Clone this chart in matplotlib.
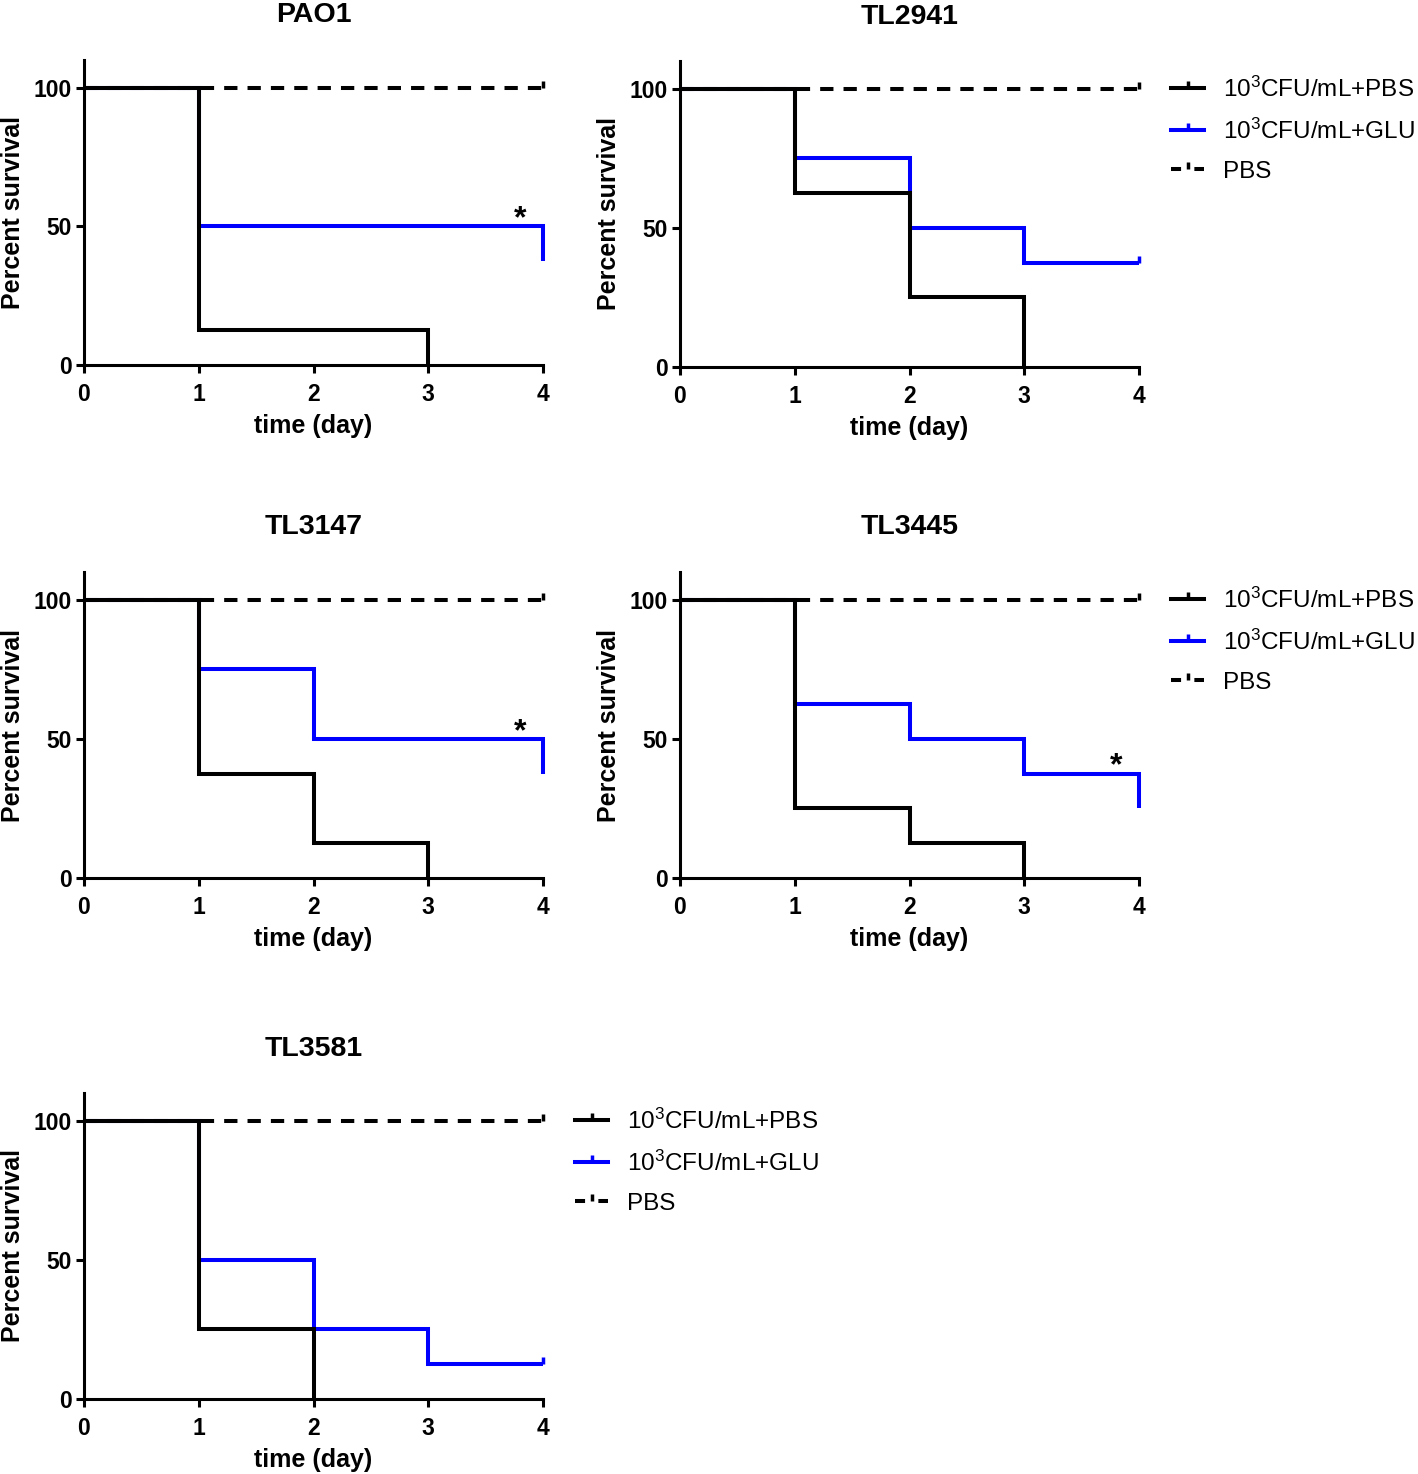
import matplotlib
matplotlib.use("Agg")
import matplotlib.pyplot as plt
from matplotlib.lines import Line2D

plt.rcParams['font.family'] = ['Liberation Sans', 'DejaVu Sans']
plt.rcParams['mathtext.fontset'] = 'custom'
plt.rcParams['mathtext.rm'] = 'Liberation Sans'
plt.rcParams['mathtext.it'] = 'Liberation Sans:italic'
plt.rcParams['mathtext.bf'] = 'Liberation Sans:bold'

# ---- data (Kaplan-Meier steps) ----
strains = ['PAO1', 'TL2941', 'TL3147', 'TL3445', 'TL3581']

# 10^3 CFU/mL + PBS (black)
pbs_days = {
    'PAO1': [0, 1, 3],
    'TL2941': [0, 1, 2, 3],
    'TL3147': [0, 1, 2, 3],
    'TL3445': [0, 1, 2, 3],
    'TL3581': [0, 1, 2],
}
pbs_surv = {
    'PAO1': [100, 12.5, 0],
    'TL2941': [100, 62.5, 25, 0],
    'TL3147': [100, 37.5, 12.5, 0],
    'TL3445': [100, 25, 12.5, 0],
    'TL3581': [100, 25, 0],
}

# 10^3 CFU/mL + GLU (blue)
glu_days = {
    'PAO1': [0, 1, 4],
    'TL2941': [0, 1, 2, 3, 4],
    'TL3147': [0, 1, 2, 4],
    'TL3445': [0, 1, 2, 3, 4],
    'TL3581': [0, 1, 2, 3, 4],
}
glu_surv = {
    'PAO1': [100, 50, 37.5],
    'TL2941': [100, 75, 50, 37.5, 37.5],
    'TL3147': [100, 75, 50, 37.5],
    'TL3445': [100, 62.5, 50, 37.5, 25],
    'TL3581': [100, 50, 25, 12.5, 12.5],
}
glu_censored = ['TL2941', 'TL3581']

# PBS only control (dashed)
ctrl_days = [0, 4]
ctrl_surv = [100, 100]

# significance stars: (x, y)
stars = {'PAO1': (3.8, 52.5), 'TL3147': (3.8, 52.5), 'TL3445': (3.8, 40)}

legend_labels = [r'10$^{3}$CFU/mL+PBS', r'10$^{3}$CFU/mL+GLU', 'PBS']
legend_panels = ['TL2941', 'TL3445', 'TL3581']

# ---- layout ----
W, H = 1418, 1474
fig = plt.figure(figsize=(W / 100, H / 100), dpi=100)

def px_axes(x0, x1, y0_px, top_px):
    return fig.add_axes([x0 / W, 1 - y0_px / H, (x1 - x0) / W, (y0_px - top_px) / H])

# pixel positions: left, right, y of 0, y of top (110)
positions = {
    'PAO1': (84, 543, 365, 60),
    'TL2941': (680, 1139, 367, 61),
    'TL3147': (84, 543, 878, 572),
    'TL3445': (680, 1139, 878, 572),
    'TL3581': (84, 543, 1399, 1093),
}

LW = 2.9
BLUE = '#0000ff'

for name in strains:
    ax = px_axes(*positions[name])
    style = dict(lw=LW, solid_joinstyle='miter', solid_capstyle='butt', clip_on=False)
    ax.plot(ctrl_days, ctrl_surv, color='black', lw=LW, linestyle=(0, (3.3, 2.5)),
            dash_capstyle='butt', clip_on=False)
    ax.plot([ctrl_days[-1]], [ctrl_surv[-1]], color='black', marker=2, ms=5, mew=2.5,
            linestyle='none', clip_on=False)
    ax.step(glu_days[name], glu_surv[name], where='post', color=BLUE, **style)
    if name in glu_censored:
        ax.plot([glu_days[name][-1]], [glu_surv[name][-1]], color=BLUE, marker=2, ms=5,
                mew=2.5, linestyle='none', clip_on=False)
    ax.step(pbs_days[name], pbs_surv[name], where='post', color='black', **style)

    if name in stars:
        sx, sy = stars[name]
        ax.text(sx, sy, '*', ha='center', va='center', fontsize=23, fontweight='bold')

    ax.set_xlim(0, 4)
    ax.set_ylim(0, 110)
    ax.set_xticks([0, 1, 2, 3, 4])
    ax.set_yticks([0, 50, 100])
    for s in ['top', 'right']:
        ax.spines[s].set_visible(False)
    for s in ['left', 'bottom']:
        ax.spines[s].set_linewidth(2.2)
    ax.tick_params(width=2.2, length=5.8, labelsize=16.5)
    ax.tick_params(axis='x', pad=7)
    ax.tick_params(axis='y', pad=3)
    for lab in ax.get_xticklabels() + ax.get_yticklabels():
        lab.set_fontweight('bold')
    ax.set_xlabel('time (day)', fontsize=18, fontweight='bold', labelpad=6)
    ax.set_ylabel('Percent survival', fontsize=18, fontweight='bold', labelpad=6)
    ax.set_title(name, fontsize=20.5, fontweight='bold', pad=27)

    if name in legend_panels:
        handles = [
            Line2D([], [], color='black', lw=LW, marker=2, ms=5, mew=2.5),
            Line2D([], [], color=BLUE, lw=LW, marker=2, ms=5, mew=2.5),
            Line2D([], [], color='black', lw=LW, linestyle=(0, (2.5, 3.3)),
                   dash_capstyle='butt', marker=2, ms=5, mew=2.5),
        ]
        ax.legend(handles, legend_labels, loc='upper left', bbox_to_anchor=(1.07, 0.95),
                  frameon=False, fontsize=17.5, handlelength=1.35, handletextpad=0.8,
                  labelspacing=0.7, borderaxespad=0, borderpad=0, numpoints=1)

fig.savefig('out.png', dpi=100)
